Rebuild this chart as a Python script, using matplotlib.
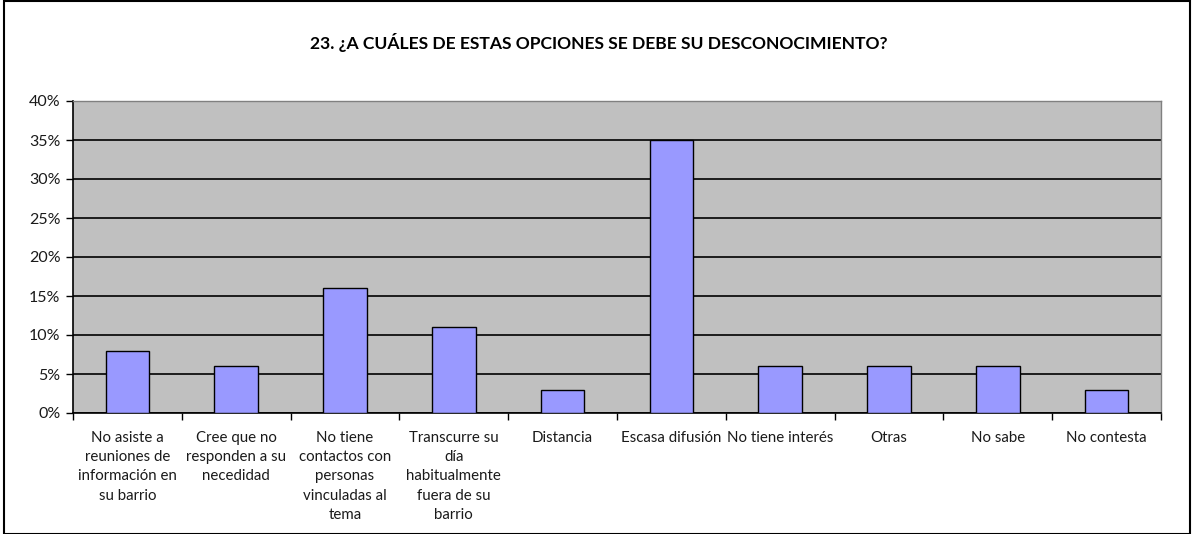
import matplotlib
matplotlib.use("Agg")
import matplotlib.pyplot as plt
from matplotlib.patches import Rectangle
from matplotlib.ticker import FixedLocator, FuncFormatter

title = "23. ¿A CUÁLES DE ESTAS OPCIONES SE DEBE SU DESCONOCIMIENTO?"
categories = [
    "No asiste a\nreuniones de\ninformación en\nsu barrio",
    "Cree que no\nresponden a su\nnecedidad",
    "No tiene\ncontactos con\npersonas\nvinculadas al\ntema",
    "Transcurre su\ndía\nhabitualmente\nfuera de su\nbarrio",
    "Distancia",
    "Escasa difusión",
    "No tiene interés",
    "Otras",
    "No sabe",
    "No contesta",
]
values = [8, 6, 16, 11, 3, 35, 6, 6, 6, 3]
yticks = [0, 5, 10, 15, 20, 25, 30, 35, 40]

plt.rcParams['font.family'] = ['Lato', 'DejaVu Sans']

fig = plt.figure(figsize=(11.98, 5.34), dpi=100)
fig.patch.set_facecolor('white')
ax = fig.add_axes([73/1198, 1-413/534, (1161-73)/1198, (413-101)/534])
ax.set_facecolor('#C0C0C0')

x = list(range(len(values)))
ax.set_axisbelow(True)
ax.yaxis.grid(True, color='black', linewidth=1.2)
ax.bar(x, values, width=0.4, color='#9999FF', edgecolor='black', linewidth=1.0, zorder=3)

ax.set_xlim(-0.5, len(values) - 0.5)
ax.set_ylim(0, 40)
ax.yaxis.set_major_locator(FixedLocator(yticks))
ax.yaxis.set_major_formatter(FuncFormatter(lambda v, p: f"{int(v)}%"))
ax.tick_params(axis='y', length=5, width=1, labelsize=11.5, pad=4, labelcolor='#1a1a1a')

ax.xaxis.set_major_locator(FixedLocator([i - 0.5 for i in range(len(values) + 1)]))
ax.xaxis.set_major_formatter(FuncFormatter(lambda v, p: ""))
ax.xaxis.set_minor_locator(FixedLocator(x))
ax.set_xticklabels(categories, minor=True, fontsize=10.8, linespacing=1.47, va='top', color='#1a1a1a')
ax.tick_params(axis='x', which='major', length=5, width=1)
ax.tick_params(axis='x', which='minor', length=0, pad=13)

for s in ['left', 'bottom']:
    ax.spines[s].set_color('black')
    ax.spines[s].set_linewidth(1.2)
for s in ['top', 'right']:
    ax.spines[s].set_color('#808080')
    ax.spines[s].set_linewidth(1.0)

fig.text(0.5, 1 - 42/534, title, ha='center', va='center', fontsize=12.6, fontweight='bold')

fig.patches.append(Rectangle((4/1198, 0), (1190-4)/1198, 1 - 1/534, transform=fig.transFigure,
                             fill=False, edgecolor='black', linewidth=1.5))

fig.savefig("out.png", dpi=100)
